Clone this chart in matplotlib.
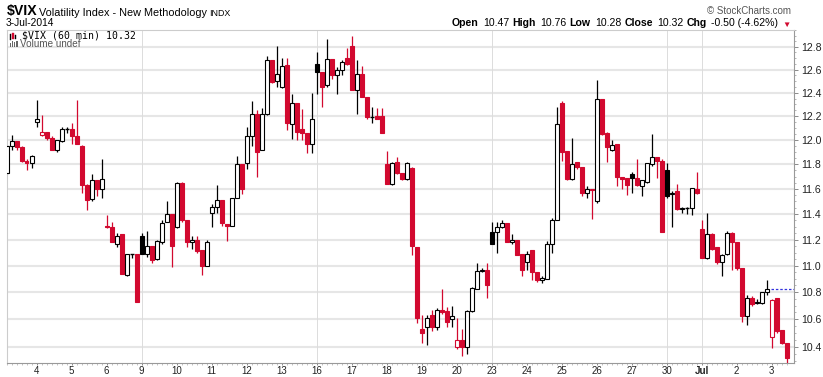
"""
VIX 60-minute candlestick chart (StockCharts look), June 3 - July 3 2014
"""

import matplotlib
matplotlib.use("Agg")
import matplotlib.pyplot as plt
from matplotlib.ticker import FixedLocator, FixedFormatter, NullFormatter
from matplotlib.patches import Rectangle

W_PX, H_PX = 823, 377
RED = '#d2092f'
GRID = '#e6e6e6'
SANS = ['Liberation Sans', 'DejaVu Sans']

# hourly bars, 7 per session (Jun 3 partly off the left edge, Jul 3 half day)
OPENS = [11.73, 11.95, 11.99, 11.94, 11.83, 11.81,
         12.15, 12.04, 12.07, 12.02, 11.92, 11.99, 12.09,
         12.09, 12.03, 11.95, 11.63, 11.52, 11.67, 11.60,
         11.31, 11.30, 11.17, 11.24, 10.93, 11.09, 11.09,
         11.23, 11.09, 11.15, 11.05, 11.18, 11.34, 11.40,
         11.30, 11.65, 11.35, 11.18, 11.20, 11.12, 11.00,
         11.41, 11.46, 11.51, 11.32, 11.31, 11.53, 11.80,
         11.81, 12.03, 12.22, 11.92, 12.22, 12.68, 12.50,
         12.45, 12.64, 12.13, 12.31, 12.09, 12.06, 11.97,
         12.65, 12.58, 12.47, 12.69, 12.55, 12.60, 12.70,
         12.81, 12.42, 12.56, 12.36, 12.19, 12.20, 12.20,
         11.80, 11.64, 11.82, 11.73, 11.68, 11.77, 11.14,
         10.53, 10.54, 10.63, 10.54, 10.67, 10.66, 10.60,
         10.40, 10.45, 10.40, 10.66, 10.82, 10.96, 10.97,
         11.26, 11.26, 11.30, 11.33, 11.18, 11.20, 11.09,
         11.03, 11.12, 10.95, 10.89, 10.90, 11.17, 11.35,
         12.31, 11.91, 11.68, 11.82, 11.78, 11.57, 11.60,
         11.50, 12.35, 12.06, 11.92, 11.97, 11.70, 11.69,
         11.72, 11.69, 11.62, 11.66, 11.80, 11.86, 11.83,
         11.75, 11.56, 11.58, 11.44, 11.45, 11.45, 11.60,
         11.28, 11.06, 11.24, 11.14, 11.03, 11.09, 11.25,
         11.18, 10.98, 10.62, 10.76, 10.72, 10.72, 10.80,
         10.47, 10.76, 10.52, 10.43]
HIGHS = [11.96, 12.04, 11.99, 11.95, 11.84, 11.88,
         12.34, 12.21, 12.07, 12.03, 12.00, 12.11, 12.11,
         12.14, 12.34, 11.96, 11.64, 11.72, 11.67, 11.84,
         11.39, 11.34, 11.25, 11.24, 11.09, 11.09, 11.09,
         11.25, 11.27, 11.15, 11.20, 11.35, 11.50, 11.40,
         11.66, 11.66, 11.35, 11.23, 11.23, 11.12, 11.20,
         11.48, 11.63, 11.51, 11.32, 11.53, 11.87, 11.80,
         12.11, 12.33, 12.25, 12.27, 12.72, 12.68, 12.81,
         12.70, 12.70, 12.39, 12.31, 12.26, 12.06, 12.40,
         12.75, 12.58, 12.87, 12.69, 12.62, 12.68, 12.79,
         12.90, 12.68, 12.63, 12.36, 12.28, 12.27, 12.27,
         11.91, 11.82, 11.86, 11.73, 11.82, 11.78, 11.14,
         10.63, 10.63, 10.67, 10.68, 10.82, 10.69, 10.70,
         10.61, 10.53, 10.67, 10.84, 11.02, 10.98, 11.02,
         11.34, 11.34, 11.35, 11.33, 11.24, 11.20, 11.09,
         11.11, 11.12, 10.95, 10.92, 11.19, 11.37, 12.28,
         12.33, 11.91, 12.02, 11.82, 11.78, 11.62, 11.60,
         12.51, 12.35, 12.07, 12.00, 11.97, 11.70, 11.69,
         11.74, 11.84, 11.67, 11.81, 12.05, 11.86, 11.84,
         11.81, 11.58, 11.64, 11.46, 11.46, 11.61, 11.74,
         11.35, 11.41, 11.25, 11.14, 11.09, 11.27, 11.26,
         11.18, 10.98, 10.78, 10.77, 10.75, 10.80, 10.89,
         10.75, 10.76, 10.52, 10.43]
LOWS = [11.72, 11.92, 11.92, 11.82, 11.75, 11.77,
        12.11, 12.03, 12.00, 11.92, 11.90, 11.98, 12.06,
        11.97, 11.97, 11.57, 11.43, 11.50, 11.54, 11.53,
        11.29, 11.18, 11.14, 10.94, 10.92, 11.06, 10.73,
        11.09, 11.07, 11.02, 11.04, 11.17, 11.34, 10.99,
        11.29, 11.34, 11.14, 11.13, 11.10, 10.93, 11.00,
        11.30, 11.41, 11.31, 11.19, 11.31, 11.53, 11.56,
        11.76, 11.95, 11.70, 11.92, 12.21, 12.48, 12.45,
        12.44, 12.08, 12.01, 12.00, 12.00, 11.89, 11.89,
        12.39, 12.28, 12.45, 12.52, 12.39, 12.55, 12.64,
        12.42, 12.22, 12.36, 12.18, 12.14, 12.18, 12.06,
        11.64, 11.63, 11.72, 11.67, 11.67, 11.08, 10.57,
        10.43, 10.41, 10.51, 10.52, 10.64, 10.54, 10.54,
        10.38, 10.33, 10.35, 10.65, 10.82, 10.95, 10.76,
        11.17, 11.10, 11.29, 11.18, 11.17, 11.08, 10.92,
        10.97, 10.89, 10.88, 10.87, 10.90, 11.10, 11.35,
        11.83, 11.67, 11.67, 11.76, 11.54, 11.53, 11.36,
        11.49, 12.04, 11.82, 11.91, 11.62, 11.60, 11.55,
        11.57, 11.62, 11.54, 11.65, 11.79, 11.69, 11.26,
        11.53, 11.30, 11.43, 11.41, 11.40, 11.39, 11.56,
        11.06, 11.05, 11.12, 11.01, 10.92, 11.08, 10.97,
        10.97, 10.58, 10.56, 10.70, 10.71, 10.71, 10.78,
        10.39, 10.50, 10.42, 10.28]
CLOSES = [11.95, 11.99, 11.94, 11.83, 11.81, 11.87,
          12.18, 12.07, 12.02, 11.92, 12.00, 12.09, 12.09,
          12.03, 11.97, 11.63, 11.51, 11.67, 11.60, 11.68,
          11.30, 11.18, 11.23, 10.94, 11.09, 11.09, 10.73,
          11.09, 11.15, 11.04, 11.19, 11.33, 11.40, 11.15,
          11.65, 11.35, 11.18, 11.20, 11.11, 11.00, 11.18,
          11.46, 11.51, 11.33, 11.31, 11.53, 11.80, 11.60,
          12.03, 12.22, 11.90, 12.22, 12.68, 12.49, 12.56,
          12.63, 12.14, 12.31, 12.07, 12.06, 11.97, 12.18,
          12.58, 12.45, 12.69, 12.55, 12.60, 12.67, 12.65,
          12.42, 12.56, 12.36, 12.19, 12.19, 12.18, 12.06,
          11.64, 11.81, 11.73, 11.68, 11.81, 11.15, 10.61,
          10.50, 10.61, 10.54, 10.67, 10.65, 10.58, 10.62,
          10.45, 10.40, 10.66, 10.83, 10.96, 10.97, 10.85,
          11.17, 11.30, 11.33, 11.18, 11.20, 11.08, 10.97,
          11.09, 10.95, 10.89, 10.91, 11.17, 11.35, 12.13,
          11.90, 11.68, 11.80, 11.78, 11.57, 11.60, 11.59,
          12.35, 12.05, 11.94, 11.96, 11.70, 11.68, 11.63,
          11.69, 11.63, 11.67, 11.81, 11.86, 11.83, 11.26,
          11.54, 11.57, 11.44, 11.45, 11.45, 11.61, 11.57,
          11.06, 11.24, 11.13, 11.03, 11.08, 11.25, 11.18,
          10.98, 10.62, 10.76, 10.71, 10.73, 10.80, 10.82,
          10.74, 10.51, 10.43, 10.32]

DAY_LABELS = ['4', '5', '6', '9', '10', '11', '12', '13', '16', '17', '18',
              '19', '20', '23', '24', '25', '26', '27', '30', 'Jul', '2', '3']
WEEK_STARTS = ['9', '16', '23', '30', 'Jul']
Y_TICKS = [10.4, 10.6, 10.8, 11.0, 11.2, 11.4, 11.6, 11.8, 12.0, 12.2, 12.4,
           12.6, 12.8]
PREV_CLOSE = 10.82
BARS_PER_DAY = 7


def fx(px):
    return px / W_PX


def fy(py):
    return 1 - py / H_PX


def bar_style(idx):
    """
    StockCharts colouring: black/red from close vs previous close,
    hollow when close >= open.
    """
    o, c = OPENS[idx], CLOSES[idx]
    prev = CLOSES[idx - 1] if idx > 0 else o
    col = 'black' if c >= prev else RED
    face = 'white' if c >= o else col
    return col, face


fig = plt.figure(figsize=(W_PX / 100, H_PX / 100), dpi=100)
ax = fig.add_axes([fx(6.7), fy(363), fx(794) - fx(6.7), fy(30) - fy(363)])
ax.set_yscale('log')

n = len(OPENS)
xs = list(range(1, n + 1))

# grid first
for y in Y_TICKS:
    ax.axhline(y, color=GRID, lw=1.5, zorder=0)
day_starts = [xs[6] + BARS_PER_DAY * k for k in range(len(DAY_LABELS))]
for pos, lab in zip(day_starts, DAY_LABELS):
    if lab in WEEK_STARTS:
        ax.axvline(pos, color='#dcdcdc', lw=0.7, zorder=0)

# candles
for i in range(n):
    col, face = bar_style(i)
    ax.vlines(xs[i], LOWS[i], HIGHS[i], colors=col, lw=0.9, zorder=2)
    lo = min(OPENS[i], CLOSES[i])
    hi = max(OPENS[i], CLOSES[i])
    if hi - lo < 0.006:
        ax.hlines(CLOSES[i], xs[i] - 0.4, xs[i] + 0.4, colors=col, lw=1.0,
                  zorder=3)
    else:
        ax.add_patch(Rectangle((xs[i] - 0.36, lo), 0.72, hi - lo,
                               facecolor=face, edgecolor=col, lw=0.8,
                               zorder=3))

ax.hlines(PREV_CLOSE, xs[-1] - 3.2, 158.5, colors='#3333dd', lw=0.9,
          linestyles=(0, (2, 1.5)), zorder=3)

ax.set_xlim(1.0, 158.46)
ax.set_ylim(10.283, 12.95)

# axes styling
ax.yaxis.tick_right()
ax.yaxis.set_major_locator(FixedLocator(Y_TICKS))
ax.yaxis.set_major_formatter(FixedFormatter(['%.1f' % v for v in Y_TICKS]))
ax.yaxis.set_minor_locator(FixedLocator(
    [10.3 + 0.05 * k for k in range(54)]))
ax.yaxis.set_minor_formatter(NullFormatter())
ax.tick_params(axis='y', which='major', length=3, width=0.6, color='#777777',
               labelsize=7.6, pad=2, labelcolor='#222222')
ax.tick_params(axis='y', which='minor', length=1.5, width=0.5,
               color='#999999')
ax.xaxis.set_major_locator(FixedLocator(day_starts))
ax.xaxis.set_major_formatter(FixedFormatter(DAY_LABELS))
ax.xaxis.set_minor_locator(FixedLocator(xs))
ax.tick_params(axis='x', which='major', length=1.5, width=0.6,
               color='#777777', labelsize=7.0, pad=1.0, labelcolor='#222222')
ax.tick_params(axis='x', which='minor', length=1.2, width=0.5,
               color='#aaaaaa')
for lab in ax.get_xticklabels():
    lab.set_family(SANS)
    if lab.get_text() == 'Jul':
        lab.set_fontweight('bold')
for lab in ax.get_yticklabels():
    lab.set_family(SANS)
for side in ['left', 'top']:
    ax.spines[side].set_color('#cccccc')
    ax.spines[side].set_linewidth(0.8)
for side in ['right', 'bottom']:
    ax.spines[side].set_color('#999999')
    ax.spines[side].set_linewidth(0.8)

# header
fig.text(fx(7), fy(15.5), r'\$VIX', family=SANS, weight='bold', size=10.2,
         va='baseline')
fig.text(fx(39), fy(15.5), 'Volatility Index - New Methodology', family=SANS,
         size=7.8, va='baseline')
fig.text(fx(209), fy(15.5), 'INDX', family=SANS, size=6.4, va='baseline')
fig.text(fx(6), fy(26.5), '3-Jul-2014', family=SANS, size=7.4, va='baseline')
fig.text(fx(791), fy(14), '\u00a9 StockCharts.com', family=SANS, size=7,
         color='#555555', ha='right', va='baseline')

pieces = [('Open', 'bold', 'black'), ('10.47', 'normal', 'black'),
          ('High', 'bold', 'black'), ('10.76', 'normal', 'black'),
          ('Low', 'bold', 'black'), ('10.28', 'normal', 'black'),
          ('Close', 'bold', 'black'), ('10.32', 'normal', 'black'),
          ('Chg', 'bold', 'black'), ('-0.50 (-4.62%)', 'normal', 'black'),
          ('\u25bc', 'normal', RED)]
renderer = fig.canvas.get_renderer()
xr = 791.0
for txt, wt, col in reversed(pieces):
    t = fig.text(fx(xr), fy(26.5), txt, family=SANS, weight=wt, color=col,
                 size=7.6 if txt != '\u25bc' else 6, ha='right',
                 va='baseline')
    w = t.get_window_extent(renderer).width
    xr -= w + (3 if wt == 'bold' else 4.5)

# legend inside plot
fig.text(fx(21.5), fy(38), r'\$VIX (60 min) 10.32', family='DejaVu Sans Mono',
         size=7.1, va='baseline')
fig.text(fx(20), fy(47), 'Volume undef', family=SANS, size=7.1,
         color='#555555', va='baseline')
for k, (h0, h1, c) in enumerate([(34, 40, 'black'), (33, 39, RED),
                                 (35, 39, 'black')]):
    fig.add_artist(Rectangle((fx(9.5 + 2.6 * k), fy(h1)), 1.6 / W_PX,
                             (h1 - h0) / H_PX, transform=fig.transFigure,
                             facecolor=c, edgecolor=c, lw=0.3))
for k, hh in enumerate([4, 6, 5, 6]):
    fig.add_artist(Rectangle((fx(9.5 + 2.2 * k), fy(47)), 1.4 / W_PX,
                             hh / H_PX, transform=fig.transFigure,
                             facecolor='#666666', edgecolor='none'))

fig.savefig('out.png', dpi=100)
plt.close(fig)
